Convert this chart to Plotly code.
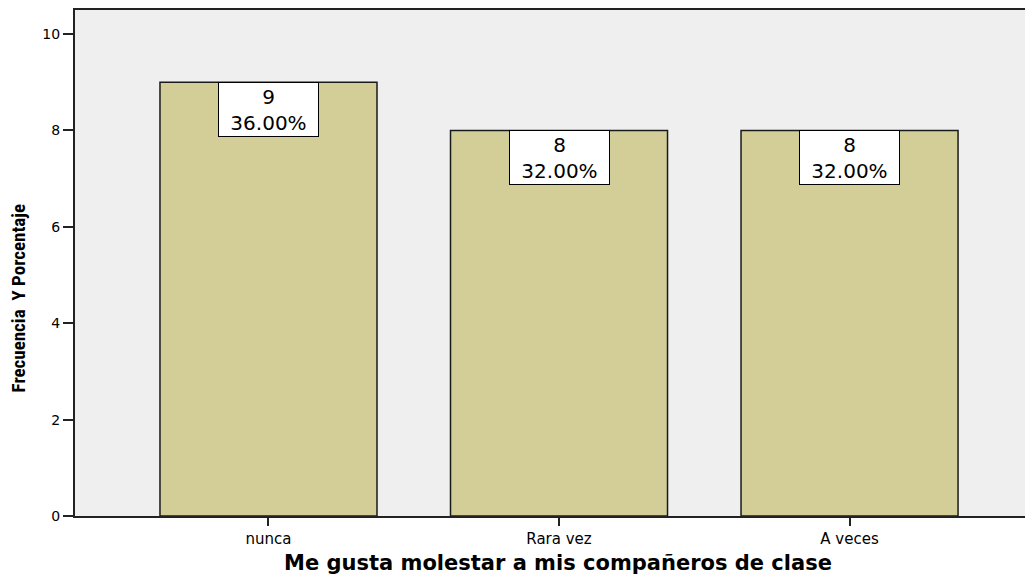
import plotly.graph_objects as go

categories = ["nunca", "Rara vez", "A veces"]
counts = [9, 8, 8]
percents = [36.00, 32.00, 32.00]
y_ticks = [0, 2, 4, 6, 8, 10]

x_pos = list(range(len(categories)))

fig = go.Figure()
fig.add_trace(go.Bar(
    x=x_pos, y=counts, width=0.747,
    marker=dict(color="#D3CE98", line=dict(color="#1a1a1a", width=1.5)),
    hoverinfo="skip",
))

for xi, c, p in zip(x_pos, counts, percents):
    fig.add_annotation(
        x=xi, y=c, xref="x", yref="y", yanchor="top", xanchor="center",
        text=f"{c}<br>{p:.2f}%", showarrow=False,
        font=dict(family="DejaVu Sans, Liberation Sans, sans-serif", size=20, color="black"),
        bgcolor="white", bordercolor="black", borderwidth=1, borderpad=0,
        width=99, height=53, align="center",
    )

# y-axis title as annotation (sits lower than plot centre in the reference)
fig.add_annotation(
    xref="paper", yref="paper", x=-0.059, y=0.43, xanchor="center", yanchor="middle",
    text="<b>Frecuencia  Y Porcentaje</b>", textangle=-90, showarrow=False,
    font=dict(size=19, family="Liberation Sans Narrow, Arial Narrow, Roboto Condensed, sans-serif", color="black"),
)

fig.update_layout(
    width=1033, height=567,
    margin=dict(l=67, r=0, t=0, b=59),
    paper_bgcolor="white", plot_bgcolor="#EFEFEF",
    showlegend=False,
    font=dict(family="DejaVu Sans, Liberation Sans, sans-serif", color="black"),
    xaxis=dict(
        range=[-0.666, 2.659], tickvals=x_pos, ticktext=categories,
        showgrid=False, zeroline=False, showline=True, linecolor="#222", linewidth=2,
        mirror=True, ticks="outside", ticklen=8, tickwidth=2, tickcolor="#222",
        tickfont=dict(size=15),
        title=dict(text="<b>Me gusta molestar a mis compañeros de clase</b>",
                   font=dict(size=21, family="DejaVu Sans, Liberation Sans, sans-serif"), standoff=10),
    ),
    yaxis=dict(
        range=[0, 10.50], tickvals=y_ticks,
        showgrid=False, zeroline=False, showline=True, linecolor="#222", linewidth=2,
        ticks="outside", ticklen=10, tickwidth=2, tickcolor="#222",
        tickfont=dict(size=14),
    ),
)

fig.write_html("out.html")
